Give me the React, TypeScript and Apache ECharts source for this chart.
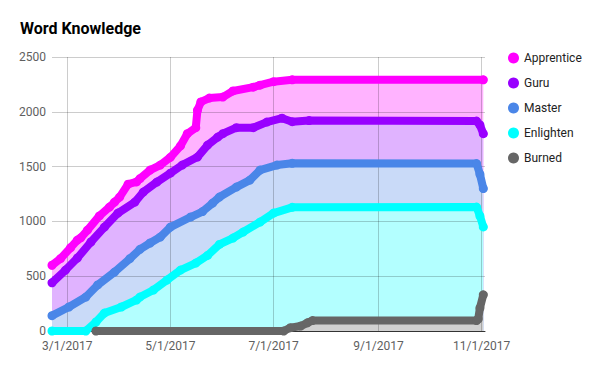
import React, { useEffect, useRef } from "react";
import * as echarts from "echarts";

const seriesNames = ["Apprentice", "Guru", "Master", "Enlighten", "Burned"];
const lineColors = ["#ff00ff", "#9900ff", "#4a86e8", "#00ffff", "#666666"];
const areaColors = ["#ffb3ff", "#e0b3ff", "#c9daf8", "#b3ffff", "#d1d1d1"];
const xTickDates = ["2017-03-01", "2017-05-01", "2017-07-01", "2017-09-01", "2017-11-01"];
const xMinDate = "2017-02-20";
const xMaxDate = "2017-11-03";

const apprentice: [string, number][] = [
  ["2017-02-20", 600], ["2017-02-25", 660], ["2017-03-03", 760], ["2017-03-07", 830],
  ["2017-03-09", 850], ["2017-03-13", 921], ["2017-03-20", 1050], ["2017-03-26", 1131],
  ["2017-03-29", 1176], ["2017-04-01", 1222], ["2017-04-06", 1340], ["2017-04-11", 1360],
  ["2017-04-13", 1390], ["2017-04-19", 1468], ["2017-04-25", 1514], ["2017-05-01", 1585],
  ["2017-05-07", 1690], ["2017-05-11", 1800], ["2017-05-16", 1855], ["2017-05-17", 2015],
  ["2017-05-19", 2090], ["2017-05-24", 2125], ["2017-06-01", 2134], ["2017-06-07", 2190],
  ["2017-06-19", 2225], ["2017-06-23", 2243], ["2017-07-01", 2275], ["2017-07-12", 2292],
  ["2017-11-02", 2292],
];
const guru: [string, number][] = [
  ["2017-02-20", 440], ["2017-02-28", 556], ["2017-03-07", 666], ["2017-03-15", 812],
  ["2017-03-23", 948], ["2017-03-31", 1076], ["2017-04-10", 1176], ["2017-04-15", 1268],
  ["2017-04-23", 1359], ["2017-05-01", 1440], ["2017-05-08", 1514], ["2017-05-17", 1587],
  ["2017-05-23", 1696], ["2017-05-29", 1769], ["2017-06-01", 1800], ["2017-06-09", 1855],
  ["2017-06-19", 1855], ["2017-06-27", 1906], ["2017-07-06", 1942], ["2017-07-12", 1910],
  ["2017-07-22", 1920], ["2017-10-29", 1915], ["2017-10-31", 1880], ["2017-11-02", 1800],
];
const master: [string, number][] = [
  ["2017-02-20", 140], ["2017-03-02", 219], ["2017-03-12", 310], ["2017-03-19", 420],
  ["2017-03-29", 538], ["2017-04-07", 660], ["2017-04-13", 745], ["2017-04-19", 803],
  ["2017-04-25", 857], ["2017-05-01", 948], ["2017-05-13", 1040], ["2017-05-20", 1090],
  ["2017-05-26", 1167], ["2017-05-30", 1222], ["2017-06-09", 1313], ["2017-06-17", 1377],
  ["2017-06-23", 1468], ["2017-07-03", 1514], ["2017-07-12", 1530], ["2017-10-29", 1528],
  ["2017-10-31", 1430], ["2017-11-02", 1300],
];
const enlighten: [string, number][] = [
  ["2017-02-20", 0], ["2017-03-12", 0], ["2017-03-18", 82], ["2017-03-23", 164],
  ["2017-04-02", 219], ["2017-04-11", 283], ["2017-04-13", 310], ["2017-04-21", 374],
  ["2017-04-29", 465], ["2017-05-07", 556], ["2017-05-16", 620], ["2017-05-23", 690],
  ["2017-05-30", 790], ["2017-06-07", 848], ["2017-06-13", 903], ["2017-06-23", 994],
  ["2017-07-01", 1076], ["2017-07-12", 1128], ["2017-10-29", 1131], ["2017-10-31", 1050],
  ["2017-11-02", 950],
];
const burned: [string, number][] = [
  ["2017-03-18", 0], ["2017-07-07", 0], ["2017-07-11", 30], ["2017-07-17", 45],
  ["2017-07-21", 75], ["2017-07-24", 95], ["2017-10-29", 95], ["2017-10-30", 110],
  ["2017-10-31", 210], ["2017-11-02", 330],
];

const allData = [apprentice, guru, master, enlighten, burned];

const ORIGIN = Date.UTC(2017, 2, 1);
const DAY = 86400000;
function toDay(s: string): number {
  const [y, m, d] = s.split("-").map(Number);
  return (Date.UTC(y, m - 1, d) - ORIGIN) / DAY;
}
function fmtDay(v: number): string {
  const dt = new Date(ORIGIN + Math.round(v) * DAY);
  return `${dt.getUTCMonth() + 1}/${dt.getUTCDate()}/${dt.getUTCFullYear()}`;
}

export default function App() {
  const ref = useRef<HTMLDivElement>(null);
  useEffect(() => {
    if (!ref.current) return;
    const chart = echarts.init(ref.current, null, { renderer: "svg" });
    const tickDays = xTickDates.map(toDay);
    const lineSeries = allData.map((d, i) => ({
      name: seriesNames[i],
      type: "line",
      data: d.map(([t, v]) => [toDay(t), v]),
      z: 4,
      symbol: "circle",
      symbolSize: 9,
      showSymbol: true,
      itemStyle: { color: lineColors[i] },
      lineStyle: { color: lineColors[i], width: 8, cap: "round", join: "round" },
      silent: true,
    }));
    const areaSeries = allData.map((d, i) => ({
      name: seriesNames[i] + " area",
      type: "line",
      data: d.map(([t, v]) => [toDay(t), v]),
      z: 1,
      symbol: "none",
      showSymbol: false,
      lineStyle: { width: 0 },
      itemStyle: { color: areaColors[i] },
      areaStyle: { color: areaColors[i], opacity: 1 },
      silent: true,
    }));
    chart.setOption({
      animation: false,
      textStyle: { fontFamily: "Roboto" },
      title: {
        text: "Word Knowledge",
        left: 15,
        top: 15,
        textStyle: { fontFamily: "Roboto", fontWeight: "bold", fontSize: 16, color: "#000" },
      },
      legend: {
        orient: "vertical",
        left: 503,
        top: 47,
        icon: "circle",
        itemWidth: 11,
        itemHeight: 11,
        itemGap: 13,
        data: seriesNames,
        textStyle: { fontFamily: "Roboto", fontSize: 12, color: "#222" },
      },
      grid: { left: 52, right: 115, top: 57, bottom: 40, containLabel: false },
      xAxis: {
        type: "value",
        min: toDay(xMinDate),
        max: toDay(xMaxDate),
        z: 2,
        axisLine: { show: true, onZero: false, lineStyle: { color: "#333", width: 1 } },
        axisTick: { show: false, customValues: tickDays },
        axisLabel: {
          customValues: tickDays,
          formatter: (v: number) => fmtDay(v),
          color: "#5f5f5f",
          fontSize: 12,
          fontFamily: "Roboto",
          margin: 9,
        },
        splitLine: { show: true, lineStyle: { color: "rgba(0,0,0,0.2)", width: 1 } },
      },
      yAxis: {
        type: "value",
        min: 0,
        max: 2500,
        interval: 500,
        z: 2,
        axisLine: { show: false },
        axisTick: { show: false },
        axisLabel: {
          color: "#5f5f5f",
          fontSize: 12,
          fontFamily: "Roboto",
          margin: 6,
          formatter: (v: number) => String(v),
        },
        splitLine: { show: true, lineStyle: { color: "rgba(0,0,0,0.2)", width: 1 } },
      },
      series: [...lineSeries, ...areaSeries],
    });
    return () => chart.dispose();
  }, []);
  return (
    <div
      ref={ref}
      style={{ position: "fixed", left: 0, top: 0, width: 600, height: 371, background: "#fff" }}
    />
  );
}
